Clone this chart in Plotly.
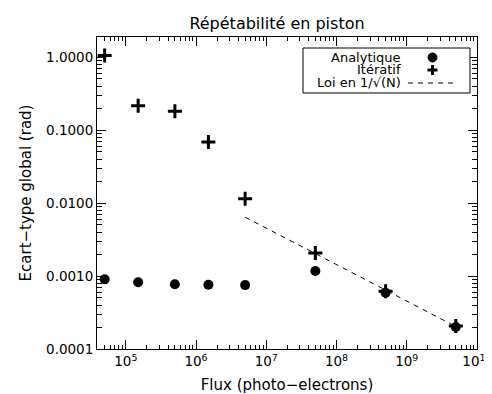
import plotly.graph_objects as go

flux = [5e4, 1.5e5, 5e5, 1.5e6, 5e6, 5e7, 5e8, 5e9]
analytique = [0.00090, 0.00082, 0.00077, 0.00076, 0.00075, 0.00117, 0.00059, 0.00020]
iteratif = [1.05, 0.215, 0.18, 0.0686, 0.0114, 0.00207, 0.00062, 0.000207]
loi_x = [5e6, 5e9]
loi_y = [0.0064, 0.000203]

xtick_vals = [1e5, 1e6, 1e7, 1e8, 1e9, 1e10]
xtick_text = ["10<sup>5</sup>", "10<sup>6</sup>", "10<sup>7</sup>", "10<sup>8</sup>", "10<sup>9</sup>", "10<sup>10</sup>"]
ytick_vals = [1e-4, 1e-3, 1e-2, 1e-1, 1]
ytick_text = ["0.0001", "0.0010", "0.0100", "0.1000", "1.0000"]

minor_mult = [2, 3, 4, 5, 6, 7, 8, 9]
x_minor = [m * 10 ** d for d in range(4, 10) for m in minor_mult]
y_minor = [m * 10.0 ** d for d in range(-4, 1) for m in minor_mult]

FONT = "DejaVu Sans"

fig = go.Figure()
fig.add_trace(go.Scatter(x=flux, y=analytique, mode="markers",
                         marker=dict(symbol="circle", size=10, color="black"),
                         showlegend=False))
fig.add_trace(go.Scatter(x=flux, y=iteratif, mode="markers",
                         marker=dict(symbol="cross-thin", size=10, color="black",
                                     line=dict(width=3, color="black")),
                         showlegend=False))
fig.add_trace(go.Scatter(x=loi_x, y=loi_y, mode="lines",
                         line=dict(color="black", width=1, dash="5px,5px"),
                         showlegend=False))

axis_common = dict(type="log", showline=True, linecolor="black", linewidth=1,
                   mirror="ticks", ticks="inside", ticklen=9, tickcolor="black", tickwidth=1,
                   showgrid=False, zeroline=False, automargin=False,
                   tickfont=dict(family=FONT, size=13.5, color="black"))

fig.update_xaxes(**axis_common, range=[4.59, 10.0005], tickvals=xtick_vals, ticktext=xtick_text,
                 minor=dict(tickvals=x_minor, ticks="inside", ticklen=4, tickcolor="black", tickwidth=1, showgrid=False),
                 title=dict(text="Flux (photo\u2212electrons)", font=dict(family=FONT, size=15, color="black"), standoff=17))
fig.update_yaxes(**axis_common, range=[-4, 0.274], tickvals=ytick_vals, ticktext=ytick_text,
                 minor=dict(tickvals=y_minor, ticks="inside", ticklen=5, tickcolor="black", tickwidth=1, showgrid=False),
                 title=dict(text="Ecart\u2212type global (rad)", font=dict(family=FONT, size=15, color="black"), standoff=10))

# the page body has an 8px margin: figure coordinates = window coordinates - 8
OFF = 8
L, R, T, B = 97, 477, 37, 349  # plot area in window pixels

def px(x):
    return (x - L) / (R - L)

def py(y):
    return (B - y) / (B - T)

shapes = [
    dict(type="rect", xref="paper", yref="paper", x0=px(303), x1=px(470), y0=py(93), y1=py(48),
         line=dict(color="black", width=1), fillcolor="white", layer="above"),
    dict(type="circle", xref="paper", yref="paper", x0=px(428), x1=px(437), y0=py(62), y1=py(53),
         line=dict(color="black", width=1), fillcolor="black", layer="above"),
    dict(type="line", xref="paper", yref="paper", x0=px(427.5), x1=px(437.5), y0=py(70), y1=py(70),
         line=dict(color="black", width=3), layer="above"),
    dict(type="line", xref="paper", yref="paper", x0=px(432.5), x1=px(432.5), y0=py(75), y1=py(65),
         line=dict(color="black", width=3), layer="above"),
    dict(type="line", xref="paper", yref="paper", x0=px(408), x1=px(458), y0=py(83), y1=py(83),
         line=dict(color="black", width=1, dash="5px,5px"), layer="above"),
]
annotations = []
for text, yy in [("Analytique", 57), ("Itératif", 69.5), ("Loi en 1/\u221a(N)", 82)]:
    annotations.append(dict(text=text, xref="paper", yref="paper", x=px(403), y=py(yy),
                            xanchor="right", yanchor="middle", showarrow=False,
                            font=dict(family=FONT, size=13, color="black")))

W, H = 492 - OFF, 394 - OFF
fig.update_layout(
    width=W, height=H,
    margin=dict(l=L - OFF, r=W - (R - OFF), t=T - OFF, b=H - (B - OFF)),
    paper_bgcolor="white", plot_bgcolor="white",
    title=dict(text="Répétabilité en piston", x=(277 - OFF) / W, xanchor="center",
               y=1 - (23 - OFF) / H, yanchor="middle",
               font=dict(family=FONT, size=16, color="black")),
    shapes=shapes, annotations=annotations,
    showlegend=False,
)

fig.write_html("out.html")
